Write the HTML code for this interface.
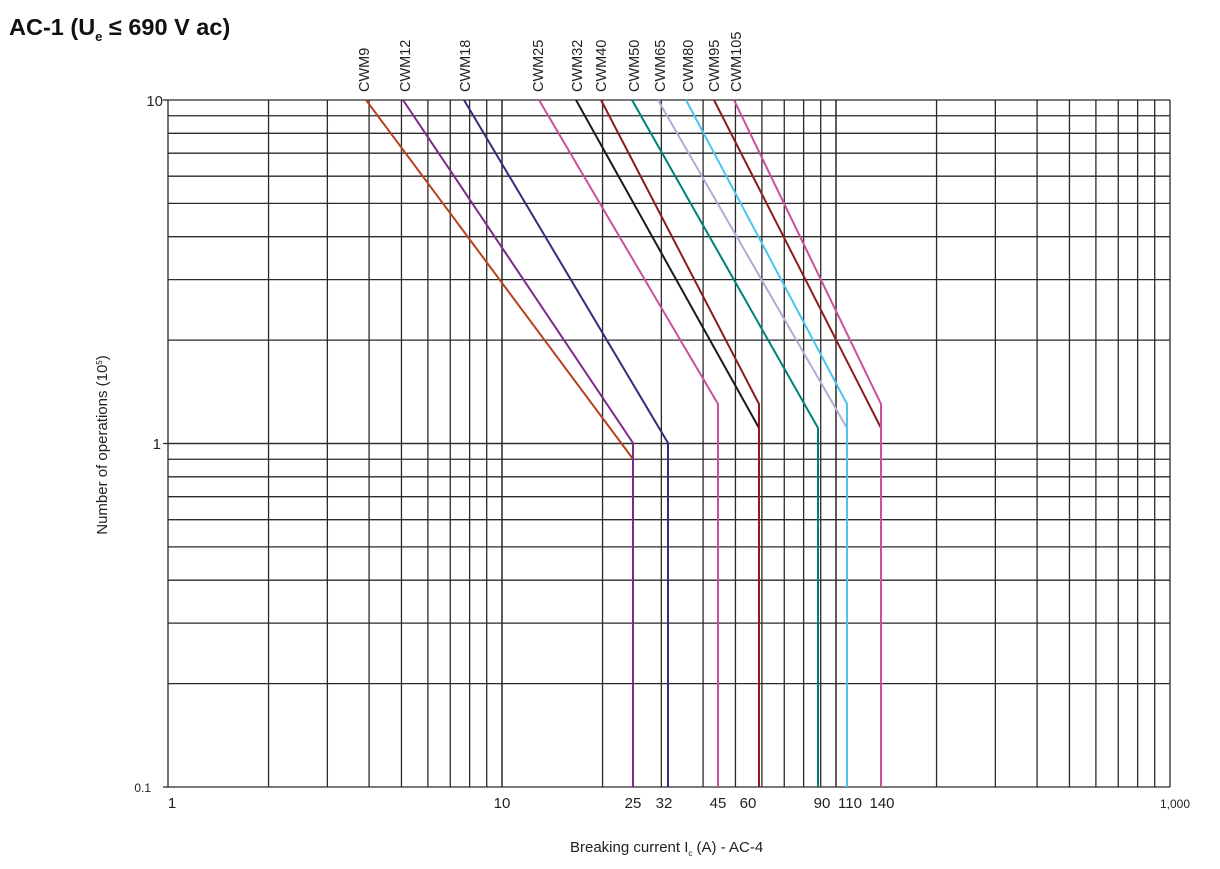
<!DOCTYPE html>
<html><head><meta charset="utf-8"><style>
html,body{margin:0;padding:0;background:#fff;}
svg{display:block;font-family:"Liberation Sans",Arial,sans-serif;}
</style></head><body>
<svg id="s" width="1220" height="869" viewBox="0 0 1220 869" xmlns="http://www.w3.org/2000/svg">
<text x="9" y="35" font-size="23.5" font-weight="bold" fill="#111">AC-1 (U<tspan font-size="13" dy="6">e</tspan><tspan dy="-6"> ≤ 690 V ac)</tspan></text>
<g id="grid" stroke="#2a2a2a" stroke-width="1.3" fill="none"></g>
<g id="curves" fill="none" stroke-width="2"></g>
<g font-size="15" fill="#222">
<text x="163" y="106" text-anchor="end">10</text>
<text x="161" y="449" text-anchor="end">1</text>
<text x="151" y="792" text-anchor="end" font-size="12">0.1</text>
<text x="172" y="808" text-anchor="middle">1</text>
<text x="502" y="808" text-anchor="middle">10</text>
<text x="633" y="808" text-anchor="middle">25</text>
<text x="664" y="808" text-anchor="middle">32</text>
<text x="718" y="808" text-anchor="middle">45</text>
<text x="748" y="808" text-anchor="middle">60</text>
<text x="822" y="808" text-anchor="middle">90</text>
<text x="850" y="808" text-anchor="middle">110</text>
<text x="882" y="808" text-anchor="middle">140</text>
<text x="1175" y="808" text-anchor="middle" font-size="12">1,000</text>
<text x="570" y="852">Breaking current I<tspan font-size="8" dy="4">c</tspan><tspan dy="-4"> (A) - AC-4</tspan></text>
<text transform="translate(107,445) rotate(-90)" text-anchor="middle">Number of operations (10<tspan font-size="8" dy="-5">5</tspan><tspan dy="5">)</tspan></text>
</g>
<g id="labels" font-size="14.5" fill="#222"></g>
</svg>
<script>
var ns="http://www.w3.org/2000/svg";
var X0=168,DX=334,Y0=787,DY=343.5;
function xp(v){return X0+Math.log10(v)*DX;}
function yp(v){return Y0-(Math.log10(v)+1)*DY;}
var g=document.getElementById('grid');
function ln(p,x1,y1,x2,y2,st,w){var l=document.createElementNS(ns,'line');l.setAttribute('x1',x1);l.setAttribute('y1',y1);l.setAttribute('x2',x2);l.setAttribute('y2',y2);if(st)l.setAttribute('stroke',st);if(w)l.setAttribute('stroke-width',w);p.appendChild(l);}
[1,10,100].forEach(function(d){for(var k=1;k<=10;k++){var x=xp(d*k);ln(g,x,100,x,787);}});
[0.1,1].forEach(function(d){for(var k=1;k<=10;k++){var y=yp(d*k);ln(g,168,y,1170,y);}});
ln(g,163,100,168,100);ln(g,163,443.5,168,443.5);ln(g,163,787,168,787);
var c=document.getElementById('curves');
var C=[
["CWM9","#b5441c",366,633,459,true,364],
["CWM12","#7e2a8c",403,633,443,true,405],
["CWM18","#2f2f7c",464,668,443,true,465],
["CWM25","#cc4f9c",539,718,404,true,538],
["CWM32","#1a1a1a",576,759,428,false,577],
["CWM40","#8c1c1c",601,759,404,true,601],
["CWM50","#00807a",632,818,428,true,634],
["CWM65","#b4aad8",658,847,428,false,660],
["CWM80","#4cc4f2",686,847,404,true,688],
["CWM95","#8c1c1c",714,881,428,false,714],
["CWM105","#cc4f9c",734,881,404,true,736]];
var L=document.getElementById('labels');
C.forEach(function(a){
 var p=document.createElementNS(ns,'polyline');
 var pts=a[2]+",100 "+a[3]+","+a[4];
 if(a[5])pts+=" "+a[3]+",787";
 p.setAttribute('points',pts);p.setAttribute('stroke',a[1]);c.appendChild(p);
 var t=document.createElementNS(ns,'text');
 t.setAttribute('transform','translate('+(a[6]+5)+',92) rotate(-90)');
 t.textContent=a[0];L.appendChild(t);
});
</script>
</body></html>
